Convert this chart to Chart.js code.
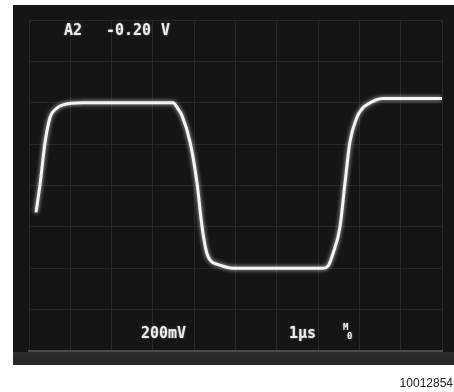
<!DOCTYPE html>
<html>
<head>
<meta charset="utf-8">
<script src="https://cdn.jsdelivr.net/npm/chart.js@4"></script>
<style>
    html, body { margin: 0; padding: 0; background: #fff; }
    #wrap { width: 454px; height: 392px; }
</style>
</head>
<body>
<div id="wrap"><canvas id="scopeChart" width="454" height="392"></canvas></div>
<script>
'use strict';

// 時間軸（µs、1µs/div）
const timeUs = [0.17, 0.27, 0.39, 0.51, 0.65, 0.82, 1.31, 2.2, 3.41, 3.49, 3.61, 3.70, 3.90, 4.07, 4.19, 4.31, 4.43, 4.55, 4.94, 6.08, 7.12, 7.24, 7.36, 7.53, 7.65, 7.77, 7.94, 8.06, 8.18, 8.57, 10.0];
// 電圧（V、200mV/div）
const voltsV = [-0.13, 0.01, 0.21, 0.33, 0.37, 0.39, 0.40, 0.40, 0.40, 0.40, 0.37, 0.34, 0.21, 0.01, -0.20, -0.33, -0.37, -0.38, -0.40, -0.40, -0.40, -0.39, -0.33, -0.20, 0.01, 0.21, 0.33, 0.37, 0.39, 0.42, 0.42];
// 目盛り
const xTicks = [0, 1, 2, 3, 4, 5, 6, 7, 8, 9, 10];
const yTicks = [-0.8, -0.6, -0.4, -0.2, 0, 0.2, 0.4, 0.6, 0.8];
// 画面の表示テキスト
const channelLabel = 'A2';
const offsetLabel = '-0.20';
const unitLabel = 'V';
const voltsPerDiv = '200mV';
const timePerDiv = '1µs';
const figureId = '10012854';

const GRID_COLOR = '#282828';
const TRACE_COLOR = '#f4f4f4';

/**
 * 黒いスクリーン背景と文字を描くプラグイン
 */
const screenPlugin = {
    id: 'screen',
    beforeDraw(chart) {
        const ctx = chart.ctx;
        ctx.save();
        ctx.fillStyle = '#151515';
        ctx.fillRect(13, 5, 441, 360);
        // 下側の帯
        const grad = ctx.createLinearGradient(0, 351, 0, 365);
        grad.addColorStop(0, '#2e2e2e');
        grad.addColorStop(1, '#262626');
        ctx.fillStyle = grad;
        ctx.fillRect(13, 352, 441, 13);
        ctx.restore();
    },
    beforeDatasetsDraw(chart) {
        chart.ctx.save();
        chart.ctx.shadowColor = 'rgba(255, 255, 255, 0.8)';
        chart.ctx.shadowBlur = 4;
    },
    afterDatasetsDraw(chart) {
        chart.ctx.restore();
    },
    afterDraw(chart) {
        const ctx = chart.ctx;
        ctx.save();
        ctx.fillStyle = '#ececec';
        ctx.shadowColor = 'rgba(255, 255, 255, 0.5)';
        ctx.shadowBlur = 2;
        ctx.font = 'bold 15px "DejaVu Sans Mono"';
        ctx.textBaseline = 'alphabetic';
        ctx.fillText(channelLabel, 64, 35);
        ctx.fillText(offsetLabel, 106, 35);
        ctx.fillText(unitLabel, 161, 35);
        ctx.fillText(voltsPerDiv, 141, 338);
        ctx.fillText(timePerDiv, 289, 338);
        // トリガ記号
        ctx.font = 'bold 9px "DejaVu Sans Mono"';
        ctx.fillText('M', 343, 330);
        ctx.fillText('0', 347, 339);
        ctx.shadowBlur = 0;
        ctx.fillStyle = '#222';
        ctx.font = '12px "Liberation Sans", Arial, sans-serif';
        ctx.textAlign = 'right';
        ctx.fillText(figureId, 453, 387);
        ctx.restore();
    }
};

const scopeCtx = document.getElementById('scopeChart');

const scopeChart = new Chart(scopeCtx, {
    type: 'line',
    data: {
        datasets: [{
            label: 'A2',
            data: timeUs.map((t, i) => ({ x: t, y: voltsV[i] })),
            borderColor: TRACE_COLOR,
            borderWidth: 3,
            pointRadius: 0,
            fill: false,
            cubicInterpolationMode: 'monotone'
        }]
    },
    options: {
        responsive: false,
        animation: false,
        layout: {
            padding: { left: 29, right: 12, top: 20, bottom: 41 }
        },
        plugins: {
            legend: { display: false },
            tooltip: { enabled: false }
        },
        scales: {
            x: {
                type: 'linear',
                min: 0,
                max: 10,
                afterBuildTicks: axis => { axis.ticks = xTicks.map(v => ({ value: v })); },
                ticks: { display: false },
                grid: { color: GRID_COLOR, lineWidth: 1, drawTicks: false },
                border: { display: true, color: '#4a4a4a', width: 2 }
            },
            y: {
                min: -0.8,
                max: 0.8,
                afterBuildTicks: axis => { axis.ticks = yTicks.map(v => ({ value: v })); },
                ticks: { display: false },
                grid: { color: GRID_COLOR, lineWidth: 1, drawTicks: false },
                border: { display: false }
            }
        }
    },
    plugins: [screenPlugin]
});
</script>
</body>
</html>
